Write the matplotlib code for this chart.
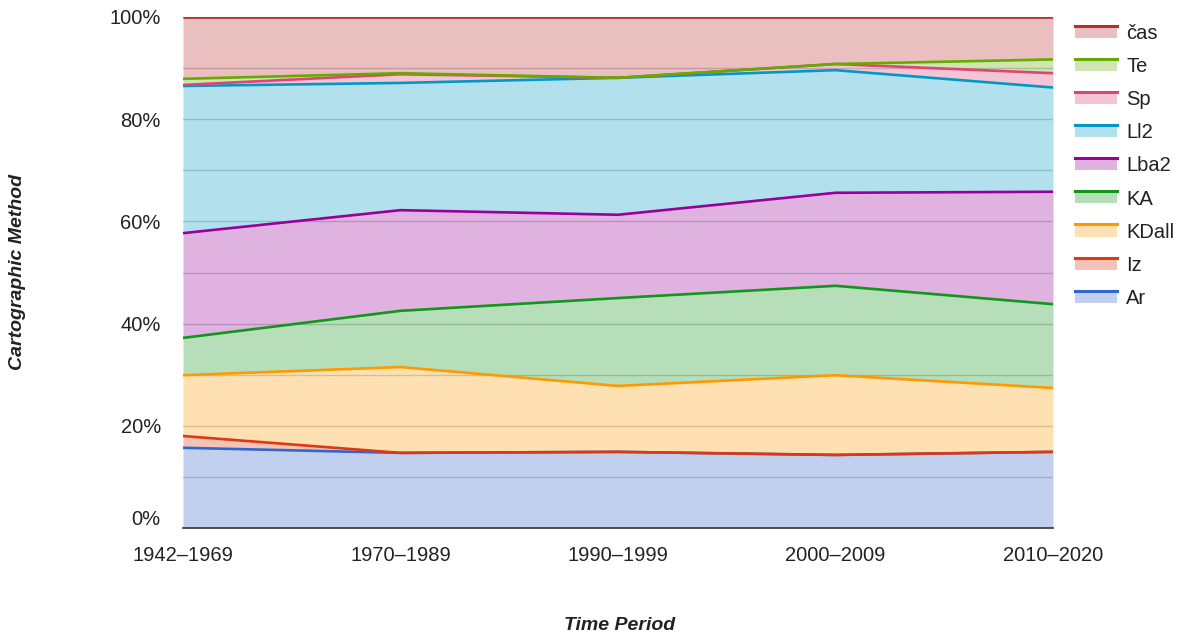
import matplotlib
matplotlib.use("Agg")
import matplotlib.pyplot as plt
import matplotlib.transforms as mtransforms
import numpy as np
from matplotlib.legend_handler import HandlerBase
from matplotlib.patches import Patch, Rectangle
from matplotlib.lines import Line2D
from matplotlib.ticker import MultipleLocator, FuncFormatter

plt.rcParams['font.family'] = ['Liberation Sans', 'DejaVu Sans']

periods = ["1942–1969", "1970–1989", "1990–1999", "2000–2009", "2010–2020"]

# share of each cartographic method (%), bottom of the stack first
ar = [15.7, 14.7, 14.9, 14.3, 14.9]
iz = [2.3, 0.0, 0.0, 0.0, 0.0]
kdall = [11.9, 16.8, 12.9, 15.6, 12.5]
ka = [7.3, 11.0, 17.2, 17.5, 16.4]
lba2 = [20.5, 19.7, 16.3, 18.2, 22.0]
ll2 = [28.8, 24.9, 26.8, 24.0, 20.4]
sp = [0.2, 1.7, 0.0, 1.2, 2.8]
te = [1.2, 0.2, 0.0, 0.0, 2.7]
cas = [12.1, 11.0, 11.9, 9.2, 8.3]

names = ["Ar", "Iz", "KDall", "KA", "Lba2", "Ll2", "Sp", "Te", "čas"]
series = [ar, iz, kdall, ka, lba2, ll2, sp, te, cas]
colors = ["#3366cc", "#dc3912", "#ff9900", "#109618", "#990099",
          "#0099c6", "#dd4477", "#66aa00", "#b82e2e"]

fig = plt.figure(figsize=(11.78, 6.37), dpi=100)
ax = fig.add_axes([183 / 1178, 1 - 528 / 637, (1053 - 183) / 1178, (528 - 17) / 637])

x = np.arange(len(periods))
data = np.array(series, dtype=float)
totals = data.sum(axis=0)
pct = data / totals * 100
tops = np.cumsum(pct, axis=0)
bottoms = np.vstack([np.zeros(len(periods)), tops[:-1]])

for i in range(len(names)):
    ax.fill_between(x, bottoms[i], tops[i], color=colors[i], alpha=0.3,
                    linewidth=0, zorder=2)
for i in range(len(names)):
    ax.plot(x, tops[i], color=colors[i], linewidth=1.9, zorder=3,
            solid_capstyle='butt')

ax.set_xlim(0, len(periods) - 1)
ax.set_ylim(0, 100)
ax.yaxis.set_major_locator(MultipleLocator(20))
ax.yaxis.set_minor_locator(MultipleLocator(10))
# the 0% label is drawn separately, nudged above the baseline
ax.yaxis.set_major_formatter(FuncFormatter(lambda v, p: "" if v == 0 else f"{v:.0f}%"))
ax.set_xticks(x)
ax.set_xticklabels(periods)
ax.grid(True, which='both', axis='y', color='#cccccc', linewidth=1, zorder=1)
ax.set_axisbelow(True)
ax.tick_params(axis='both', which='both', length=0, labelsize=14.5,
               labelcolor='#222222')
ax.tick_params(axis='y', pad=16)
ax.tick_params(axis='x', pad=13)
for s in ['top', 'right', 'left']:
    ax.spines[s].set_visible(False)
ax.spines['bottom'].set_color('#333333')
ax.spines['bottom'].set_linewidth(1.2)
ax.spines['bottom'].set_zorder(4)

zero_tf = ax.get_yaxis_transform() + mtransforms.ScaledTranslation(
    -16 / 72, 6 / 72, fig.dpi_scale_trans)
ax.text(0, 0, "0%", transform=zero_tf, ha='right', va='center',
        fontsize=14.5, color='#222222')

fig.text(18 / 1178, 1 - 272 / 637, "Cartographic Method", rotation=90,
         ha='center', va='center', fontsize=14, fontweight='bold',
         fontstyle='italic', color='#222222')
fig.text(620 / 1178, 1 - 625 / 637, "Time Period", ha='center', va='center',
         fontsize=14, fontweight='bold', fontstyle='italic', color='#222222')


class AreaHandler(HandlerBase):
    def create_artists(self, legend, orig_handle, xdescent, ydescent,
                       width, height, fontsize, trans):
        col = orig_handle.get_edgecolor()
        rect = Rectangle((-xdescent, -ydescent), width, height,
                         facecolor=col, alpha=0.3, edgecolor='none',
                         transform=trans)
        line = Line2D([-xdescent, -xdescent + width],
                      [-ydescent + height, -ydescent + height],
                      color=col, linewidth=2.2, transform=trans)
        return [rect, line]


handles = [Patch(edgecolor=c) for c in colors][::-1]
labels = names[::-1]
leg = fig.legend(handles, labels, handler_map={Patch: AreaHandler()},
                 loc='upper left', bbox_to_anchor=(1070 / 1178, 1 - 19 / 637),
                 frameon=False, fontsize=14.5, handlelength=2.1,
                 handleheight=0.55, labelspacing=0.7, handletextpad=0.45,
                 borderaxespad=0, borderpad=0.25)
for t in leg.get_texts():
    t.set_color('#222222')

fig.savefig("out.png", dpi=100)
